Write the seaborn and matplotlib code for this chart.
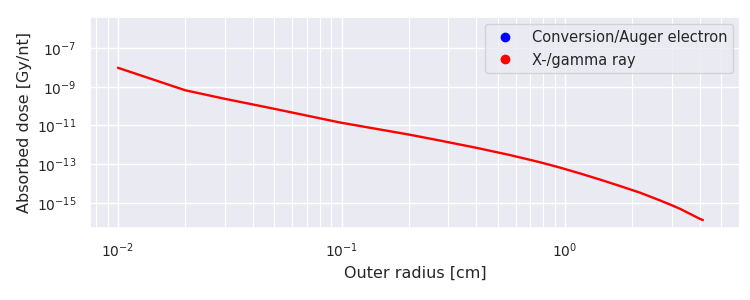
import numpy as np
import pandas as pd
import matplotlib
matplotlib.use("Agg")
import matplotlib.pyplot as plt
from matplotlib.lines import Line2D
import seaborn as sns

# Data
radius_cm = [0.01, 0.02, 0.0296, 0.0495, 0.0985, 0.2025, 0.276, 0.396, 0.567, 0.773, 0.950,
             1.167, 1.434, 1.762, 2.166, 2.662, 2.950, 3.270, 3.625, 4.018, 4.131]
gamma_dose = [9.6e-9, 6.6e-10, 2.48e-10, 7.45e-11, 1.42e-11, 3.3e-12, 1.65e-12, 7.2e-13, 2.95e-13,
              1.25e-13, 6.6e-14, 3.3e-14, 1.59e-14, 7.36e-15, 3.33e-15, 1.32e-15, 8.15e-16,
              4.86e-16, 2.67e-16, 1.46e-16, 1.29e-16]
electron_dose = [0.0] * len(radius_cm)  # not visible on the log axis
series_labels = ["Conversion/Auger electron", "X-/gamma ray"]
series_colors = ["blue", "red"]

df = pd.DataFrame({
    "radius": radius_cm * 2,
    "dose": electron_dose + gamma_dose,
    "particle": [series_labels[0]] * len(radius_cm) + [series_labels[1]] * len(radius_cm),
})
df = df[df["dose"] > 0]

sns.set_theme(style="darkgrid")
plt.rcParams["font.family"] = ["DejaVu Sans"]

fig, ax = plt.subplots(figsize=(7.5, 3.0), dpi=100)
fig.subplots_adjust(left=0.12, right=0.987, top=0.943, bottom=0.24)

sns.lineplot(data=df, x="radius", y="dose", hue="particle",
             hue_order=series_labels, palette=series_colors,
             linewidth=1.7, ax=ax, legend=False, estimator=None)

ax.set_xscale("log")
ax.set_yscale("log")
ax.set_xlim(0.0075, 6.07)
ax.set_ylim(5e-17, 4e-6)
ax.grid(which="minor", axis="x", color="white", linewidth=0.8)
ax.tick_params(labelsize=10)
ax.set_xlabel("Outer radius [cm]", fontsize=11.5)
ax.set_ylabel("Absorbed dose [Gy/nt]", fontsize=11.5)

handles = [Line2D([], [], linestyle="", marker="o", markersize=6, color=c) for c in series_colors]
ax.legend(handles, series_labels, loc="upper right", fontsize=10.5, frameon=True)

fig.savefig("out.png", dpi=100)
